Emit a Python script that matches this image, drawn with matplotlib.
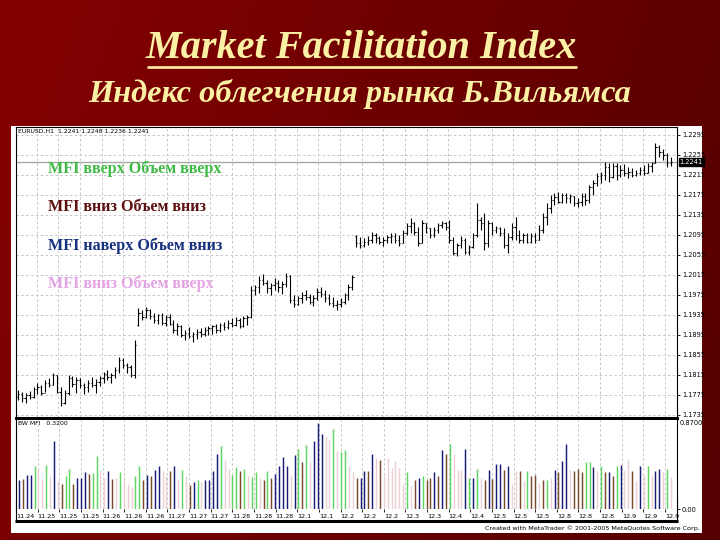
import numpy as np
import matplotlib
matplotlib.use("Agg")
import matplotlib.pyplot as plt
from matplotlib.patches import Rectangle
from matplotlib.transforms import blended_transform_factory

# ---------------- data ----------------
highs = [1.1785,1.1782,1.1780,1.1784,1.1790,1.1800,1.1795,1.1805,1.1808,1.1820,
         1.1815,1.1790,1.1785,1.1815,1.1812,1.1810,1.1808,1.1800,1.1805,1.1810,
         1.1806,1.1812,1.1822,1.1825,1.1820,1.1830,1.1850,1.1848,1.1840,1.1835,
         1.1885,1.1948,1.1945,1.1950,1.1946,1.1940,1.1938,1.1940,1.1935,1.1938,
         1.1925,1.1920,1.1915,1.1905,1.1910,1.1902,1.1906,1.1908,1.1910,1.1912,
         1.1915,1.1918,1.1920,1.1922,1.1925,1.1928,1.1930,1.1928,1.1932,1.1935,
         1.1992,1.1995,1.2012,1.2018,1.2005,1.2000,1.2008,1.2005,1.2003,1.2020,
         1.2015,1.1975,1.1972,1.1982,1.1985,1.1978,1.1975,1.1988,1.1990,1.1985,
         1.1978,1.1970,1.1965,1.1968,1.1980,1.1998,1.2015,1.2095,1.2090,1.2088,
         1.2092,1.2102,1.2098,1.2092,1.2090,1.2094,1.2098,1.2100,1.2095,1.2105,
         1.2118,1.2128,1.2122,1.2110,1.2125,1.2120,1.2108,1.2110,1.2120,1.2124,
         1.2122,1.2125,1.2090,1.2080,1.2092,1.2088,1.2075,1.2100,1.2158,1.2130,
         1.2140,1.2125,1.2122,1.2112,1.2110,1.2108,1.2100,1.2120,1.2130,1.2105,
         1.2100,1.2098,1.2100,1.2098,1.2115,1.2140,1.2160,1.2175,1.2178,1.2182,
         1.2180,1.2178,1.2176,1.2172,1.2168,1.2180,1.2178,1.2195,1.2205,1.2218,
         1.2222,1.2242,1.2238,1.2240,1.2238,1.2235,1.2236,1.2230,1.2228,1.2225,
         1.2230,1.2235,1.2238,1.2242,1.2280,1.2275,1.2268,1.2258,1.2250]
lows = [1.1765,1.1762,1.1760,1.1766,1.1768,1.1778,1.1775,1.1782,1.1790,1.1795,
        1.1780,1.1752,1.1756,1.1775,1.1790,1.1780,1.1788,1.1778,1.1782,1.1790,
        1.1780,1.1792,1.1800,1.1805,1.1800,1.1808,1.1820,1.1828,1.1820,1.1810,
        1.1808,1.1912,1.1925,1.1928,1.1926,1.1920,1.1918,1.1915,1.1912,1.1915,
        1.1900,1.1895,1.1890,1.1885,1.1888,1.1882,1.1886,1.1890,1.1892,1.1895,
        1.1898,1.1900,1.1902,1.1905,1.1906,1.1910,1.1912,1.1908,1.1910,1.1915,
        1.1928,1.1975,1.1980,1.1995,1.1980,1.1975,1.1985,1.1982,1.1978,1.1990,
        1.1960,1.1950,1.1955,1.1960,1.1965,1.1958,1.1952,1.1965,1.1970,1.1962,
        1.1955,1.1950,1.1945,1.1950,1.1958,1.1965,1.1985,1.2070,1.2068,1.2070,
        1.2074,1.2080,1.2080,1.2076,1.2072,1.2078,1.2080,1.2078,1.2072,1.2078,
        1.2095,1.2100,1.2095,1.2072,1.2080,1.2100,1.2088,1.2090,1.2098,1.2108,
        1.2105,1.2080,1.2055,1.2052,1.2068,1.2058,1.2055,1.2068,1.2090,1.2105,
        1.2065,1.2070,1.2095,1.2098,1.2092,1.2068,1.2060,1.2085,1.2085,1.2080,
        1.2078,1.2080,1.2080,1.2078,1.2085,1.2098,1.2115,1.2140,1.2155,1.2158,
        1.2160,1.2160,1.2158,1.2152,1.2150,1.2152,1.2155,1.2160,1.2175,1.2192,
        1.2198,1.2205,1.2202,1.2208,1.2205,1.2210,1.2212,1.2208,1.2210,1.2212,
        1.2215,1.2215,1.2218,1.2222,1.2238,1.2250,1.2245,1.2230,1.2232]
opens = [1.1770,1.1778,1.1768,1.1775,1.1770,1.1786,1.1790,1.1780,1.1800,1.1795,
         1.1815,1.1782,1.1760,1.1780,1.1808,1.1798,1.1805,1.1795,1.1790,1.1800,
         1.1795,1.1802,1.1808,1.1818,1.1810,1.1815,1.1825,1.1845,1.1835,1.1830,
         1.1815,1.1915,1.1940,1.1930,1.1945,1.1932,1.1925,1.1935,1.1920,1.1930,
         1.1918,1.1905,1.1912,1.1895,1.1900,1.1892,1.1898,1.1902,1.1896,1.1905,
         1.1908,1.1912,1.1905,1.1915,1.1910,1.1920,1.1915,1.1925,1.1912,1.1928,
         1.1930,1.1985,1.1990,1.2005,1.2000,1.1988,1.1995,1.2000,1.1990,1.1998,
         1.2012,1.1965,1.1958,1.1968,1.1975,1.1970,1.1962,1.1968,1.1982,1.1978,
         1.1968,1.1960,1.1955,1.1958,1.1962,1.1975,1.1990,1.2092,1.2078,1.2075,
         1.2082,1.2085,1.2095,1.2088,1.2082,1.2086,1.2090,1.2092,1.2085,1.2080,
         1.2100,1.2112,1.2120,1.2102,1.2080,1.2118,1.2108,1.2095,1.2105,1.2115,
         1.2118,1.2110,1.2085,1.2060,1.2075,1.2085,1.2062,1.2070,1.2095,1.2125,
         1.2120,1.2080,1.2118,1.2105,1.2108,1.2100,1.2075,1.2090,1.2110,1.2095,
         1.2085,1.2095,1.2082,1.2092,1.2085,1.2105,1.2130,1.2148,1.2165,1.2170,
         1.2162,1.2175,1.2168,1.2172,1.2158,1.2162,1.2172,1.2165,1.2190,1.2200,
         1.2212,1.2215,1.2230,1.2210,1.2232,1.2215,1.2225,1.2218,1.2222,1.2215,
         1.2220,1.2225,1.2220,1.2232,1.2238,1.2270,1.2262,1.2255,1.2240]
closes = [1.1778,1.1768,1.1775,1.1770,1.1786,1.1790,1.1780,1.1800,1.1795,1.1815,
          1.1782,1.1760,1.1780,1.1808,1.1798,1.1805,1.1795,1.1790,1.1800,1.1795,
          1.1802,1.1808,1.1818,1.1810,1.1815,1.1825,1.1845,1.1835,1.1830,1.1815,
          1.1875,1.1940,1.1930,1.1945,1.1932,1.1925,1.1935,1.1920,1.1930,1.1918,
          1.1905,1.1912,1.1895,1.1900,1.1892,1.1898,1.1902,1.1896,1.1905,1.1908,
          1.1912,1.1905,1.1915,1.1910,1.1920,1.1915,1.1925,1.1912,1.1928,1.1930,
          1.1985,1.1990,1.2005,1.2000,1.1988,1.1995,1.2000,1.1990,1.1998,1.2012,
          1.1965,1.1958,1.1968,1.1975,1.1970,1.1962,1.1968,1.1982,1.1978,1.1968,
          1.1960,1.1955,1.1958,1.1962,1.1975,1.1990,1.2010,1.2078,1.2075,1.2082,
          1.2085,1.2095,1.2088,1.2082,1.2086,1.2090,1.2092,1.2085,1.2080,1.2100,
          1.2112,1.2120,1.2102,1.2080,1.2118,1.2108,1.2095,1.2105,1.2115,1.2118,
          1.2110,1.2085,1.2060,1.2075,1.2085,1.2062,1.2070,1.2095,1.2125,1.2120,
          1.2080,1.2118,1.2105,1.2108,1.2100,1.2075,1.2090,1.2110,1.2095,1.2085,
          1.2095,1.2082,1.2092,1.2085,1.2105,1.2130,1.2148,1.2165,1.2170,1.2162,
          1.2175,1.2168,1.2172,1.2158,1.2162,1.2172,1.2165,1.2190,1.2200,1.2212,
          1.2215,1.2230,1.2210,1.2232,1.2215,1.2225,1.2218,1.2222,1.2215,1.2220,
          1.2225,1.2220,1.2232,1.2238,1.2270,1.2262,1.2255,1.2240,1.2241]

mfi_vals = [0.29,0.30,0.34,0.34,0.43,0.40,0.30,0.44,0.33,0.68,
            0.29,0.25,0.33,0.40,0.25,0.31,0.31,0.37,0.35,0.36,
            0.53,0.39,0.31,0.38,0.30,0.31,0.37,0.29,0.25,0.22,
            0.33,0.43,0.29,0.34,0.33,0.39,0.43,0.38,0.33,0.38,
            0.43,0.29,0.39,0.33,0.24,0.27,0.29,0.27,0.29,0.29,
            0.38,0.55,0.63,0.49,0.40,0.34,0.42,0.38,0.40,0.33,
            0.32,0.37,0.31,0.29,0.38,0.31,0.35,0.43,0.52,0.43,
            0.34,0.54,0.60,0.47,0.64,0.47,0.68,0.86,0.75,0.73,
            0.69,0.80,0.58,0.57,0.59,0.43,0.37,0.31,0.31,0.38,
            0.38,0.55,0.51,0.49,0.34,0.51,0.41,0.48,0.41,0.25,
            0.37,0.23,0.29,0.31,0.33,0.29,0.31,0.37,0.33,0.59,
            0.55,0.65,0.55,0.39,0.39,0.60,0.31,0.31,0.40,0.31,
            0.29,0.39,0.30,0.45,0.45,0.39,0.43,0.25,0.38,0.38,
            0.28,0.38,0.33,0.34,0.26,0.29,0.29,0.31,0.39,0.37,
            0.48,0.65,0.39,0.38,0.40,0.37,0.47,0.47,0.42,0.38,
            0.43,0.37,0.37,0.33,0.43,0.44,0.39,0.49,0.38,0.28,
            0.43,0.34,0.43,0.33,0.38,0.40,0.37,0.40,0.32]
# g = MFI up / volume up, b = MFI down / volume down,
# n = MFI up / volume down, p = MFI down / volume up
mfi_kind = list("nbnngppgpn" "pbggbnnnbg" "gppnbpgppp" "ggbnbnnppb"
                "npgpbngpnn" "nngppggbgp" "ggpbgbnnnn" "pngbgpnnnp"
                "pgpggppbnn" "bnpbpppppp" "gpbngbbnbn" "bgpppngngp"
                "bnbnnbnppb" "pgbbpbgpnb" "nnpbbbggnp" "gbnbgnppbp"
                "npgpnnpgp")

price_ticks = [1.2295, 1.2255, 1.2215, 1.2175, 1.2135, 1.2095, 1.2055, 1.2015,
               1.1975, 1.1935, 1.1895, 1.1855, 1.1815, 1.1775, 1.1735]
time_labels = ["11.24", "11.25", "11.25", "11.25", "11.26", "11.26", "11.26",
               "11.27", "11.27", "11.27", "11.28", "11.28", "11.28", "12.1",
               "12.1", "12.2", "12.2", "12.2", "12.3", "12.3", "12.4", "12.4",
               "12.5", "12.5", "12.5", "12.8", "12.8", "12.8", "12.9", "12.9",
               "12.9"]
legend_lines = ["MFI вверх Объем вверх", "MFI вниз Объем вниз",
                "MFI наверх Объем вниз", "MFI вниз Объем вверх"]
last_price = 1.2241

# ---------------- styling ----------------
W, H = 720, 540
kind_colors = {"g": "#5fd65f", "b": "#7a4a2c", "n": "#1b1b78", "p": "#ecd0d4"}
legend_colors = ["#3fb945", "#5e1010", "#17307f", "#e4a4e4"]
title_color = "#fbf1a4"
grid_kw = dict(color="#c6c6c6", lw=0.7, ls=(0, (2.5, 2.5)), zorder=0)

fig = plt.figure(figsize=(7.2, 5.4), dpi=100)

# background (gradient slide) in pixel coordinates
bg = fig.add_axes([0, 0, 1, 1], zorder=0)
xs = np.linspace(0, 1, 360)
ys = np.linspace(0, 1, 270)
X, Y = np.meshgrid(xs, ys)
red = 0.52 - 0.15 * X - 0.04 * Y
img = np.dstack([red, np.zeros_like(red), np.zeros_like(red)])
bg.imshow(img, extent=[0, W, H, 0], aspect="auto", interpolation="bilinear")
bg.set_xlim(0, W)
bg.set_ylim(H, 0)
bg.axis("off")
bg.add_patch(Rectangle((11, 126), 691, 407, facecolor="white", edgecolor="none"))

bg.text(361, 48, "Market Facilitation Index", ha="center", va="center",
        fontsize=29, fontstyle="italic", fontweight="bold",
        family="Liberation Serif", color=title_color)
bg.plot([147, 577], [66.5, 66.5], color=title_color, lw=1.9, solid_capstyle="butt")
bg.text(360, 94, "Индекс облегчения рынка Б.Вильямса", ha="center",
        va="center", fontsize=23.3, fontstyle="italic", fontweight="bold",
        family="Liberation Serif", color=title_color)

# frame pieces around the time-scale strip
bg.plot([15.5, 15.5], [500, 521], color="black", lw=0.8)
bg.plot([677, 677], [500, 521], color="black", lw=0.8)
bg.plot([15, 677.5], [521, 521], color="black", lw=2.2, solid_capstyle="butt")
bg.text(700, 528, "Created with MetaTrader \u00a9 2001-2005 MetaQuotes Software Corp.",
        ha="right", va="center", fontsize=4.6, color="black")

# bar geometry
n = len(highs)
idx = np.arange(n)
x0_px, x1_px = 18, 671
step = (x1_px - x0_px) / (n - 1)
xlim = ((16 - x0_px) / step, (677 - x0_px) / step)
grid_x = np.array([((15 + 21.667 * j) - x0_px) / step for j in range(len(time_labels))])

# ---------------- main price panel ----------------
ax = fig.add_axes([16 / W, 1 - 418 / H, 661 / W, 291 / H], zorder=2)
ax.set_xlim(*xlim)
ax.set_ylim(1.1729, 1.2311)
for p in price_ticks:
    ax.axhline(p, **grid_kw)
for gx in grid_x[1:]:
    ax.axvline(gx, **grid_kw)
ax.axhline(last_price, color="#a8a8a8", lw=1.0, zorder=1)

ax.vlines(idx, lows, highs, color="black", lw=0.8, zorder=3)
ax.hlines(opens, idx - 0.33, idx, color="black", lw=0.8, zorder=3)
ax.hlines(closes, idx, idx + 0.33, color="black", lw=0.8, zorder=3)

ax.set_xticks([])
ax.yaxis.tick_right()
ax.set_yticks(price_ticks)
ax.set_yticklabels([f"{p:.4f}" for p in price_ticks])
ax.tick_params(axis="y", length=2, width=0.6, pad=1.5, labelsize=4.8)
for s in ax.spines.values():
    s.set_color("black")
    s.set_linewidth(0.8)
ax.spines["bottom"].set_linewidth(2.2)

tr = blended_transform_factory(ax.transAxes, ax.transData)
ax.text(1.004, last_price, f"{last_price:.4f}", transform=tr, fontsize=4.8,
        color="white", va="center", ha="left",
        bbox=dict(facecolor="black", edgecolor="black", pad=0.8))
ax.text(0.003, 0.995, "EURUSD,H1  1.2241 1.2248 1.2236 1.2241",
        transform=ax.transAxes, fontsize=4.4, va="top", ha="left")

for k, (txt, col) in enumerate(zip(legend_lines, legend_colors)):
    ax.text(48, 169 + 38.3 * k, txt, transform=bg.transData, fontsize=11.6,
            fontweight="bold", family="Liberation Serif", color=col,
            ha="left", va="center", zorder=5)

# ---------------- BW MFI panel ----------------
ax2 = fig.add_axes([16 / W, 1 - 509 / H, 661 / W, 89 / H], zorder=2)
ax2.set_xlim(*xlim)
ax2.set_ylim(0, 0.89)
for gx in grid_x[1:]:
    ax2.axvline(gx, **grid_kw)
ax2.vlines(idx, 0, mfi_vals, colors=[kind_colors[k] for k in mfi_kind],
           lw=1.05, zorder=3)
ax2.set_xticks(grid_x)
ax2.set_xticklabels(time_labels)
ax2.tick_params(axis="x", length=2.5, width=0.6, pad=1.2, labelsize=4.6)
for lab in ax2.get_xticklabels():
    lab.set_ha("left")
ax2.yaxis.tick_right()
ax2.set_yticks([0.0])
ax2.set_yticklabels(["0.00"])
ax2.tick_params(axis="y", length=2, width=0.6, pad=1.5, labelsize=4.8)
ax2.text(1.004, 0.965, "0.8700", transform=ax2.transAxes, fontsize=4.8,
         va="center", ha="left")
ax2.text(0.003, 0.985, "BW MFI   0.3200", transform=ax2.transAxes,
         fontsize=4.4, va="top", ha="left")
for name, s in ax2.spines.items():
    s.set_color("black")
    s.set_linewidth(0.8)
ax2.spines["top"].set_visible(False)
ax2.spines["bottom"].set_visible(False)

fig.savefig("out.png", dpi=100)
